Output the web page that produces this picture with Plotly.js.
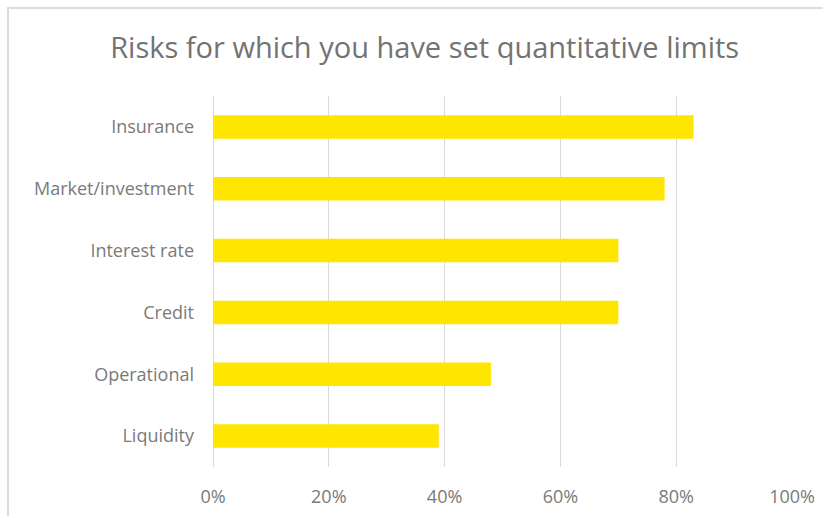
<!DOCTYPE html>
<html>
<head>
<meta charset="utf-8">
<script src="https://cdn.plot.ly/plotly-3.0.1.min.js"></script>
<style>
  html, body { margin: 0; padding: 0; background: #ffffff; }
  #wrap { position: relative; width: 823px; height: 516px; overflow: hidden; }
  #chart { position: absolute; left: 0; top: 0; width: 823px; height: 516px; }
  #frame { position: absolute; left: 7px; top: 7px; width: 900px; height: 600px;
           border-left: 2px solid #dcdcdc; border-top: 2px solid #dcdcdc; pointer-events: none; }
</style>
</head>
<body>
<div id="wrap">
  <div id="chart"></div>
  <div id="frame"></div>
</div>
<script>
const categories = ["Insurance", "Market/investment", "Interest rate", "Credit", "Operational", "Liquidity"];
const shares = [0.83, 0.78, 0.70, 0.70, 0.48, 0.39];
const tickValues = [0, 0.2, 0.4, 0.6, 0.8, 1.0];
const tickLabels = ["0%", "20%", "40%", "60%", "80%", "100%"];
const chartTitle = "Risks for which you have set quantitative limits";

const trace = {
  type: "bar",
  orientation: "h",
  x: shares,
  y: categories,
  marker: { color: "#FFE600" },
  hoverinfo: "skip"
};

const fontFam = "'Open Sans', 'Noto Sans', sans-serif";

const layout = {
  width: 823,
  height: 516,
  margin: { l: 213, r: 31, t: 96, b: 49 },
  paper_bgcolor: "#ffffff",
  plot_bgcolor: "#ffffff",
  showlegend: false,
  bargap: 0.62,
  font: { family: fontFam, color: "#7a7a7a", size: 18 },
  title: {
    text: chartTitle,
    font: { family: fontFam, size: 29, color: "#737373" },
    x: 0.516, xref: "container", xanchor: "center",
    y: 0.907, yref: "container", yanchor: "middle"
  },
  xaxis: {
    range: [0, 1],
    tickvals: tickValues,
    ticktext: tickLabels,
    showgrid: true,
    gridcolor: "#d9d9d9",
    gridwidth: 1,
    zeroline: true,
    zerolinecolor: "#d9d9d9",
    zerolinewidth: 1,
    showline: false,
    ticks: "",
    ticklabelstandoff: 17,
    tickfont: { family: fontFam, size: 18, color: "#7a7a7a" },
    fixedrange: true
  },
  yaxis: {
    autorange: "reversed",
    showgrid: false,
    zeroline: false,
    showline: false,
    ticks: "",
    ticklabelstandoff: 18,
    tickfont: { family: fontFam, size: 18, color: "#7a7a7a" },
    fixedrange: true
  }
};

Plotly.newPlot("chart", [trace], layout, { displayModeBar: false, staticPlot: true });
</script>
</body>
</html>
